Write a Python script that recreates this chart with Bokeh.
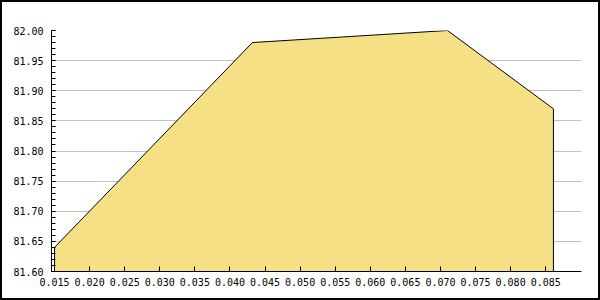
from bokeh.plotting import figure
from bokeh.models import Range1d, PrintfTickFormatter, FixedTicker
from bokeh.embed import file_html
from bokeh.resources import INLINE

# data
x_vals = [0.015, 0.0432, 0.0710, 0.0861]
y_vals = [81.64, 81.98, 82.00, 81.87]
base = 81.60
x_ticks = [0.015, 0.020, 0.025, 0.030, 0.035, 0.040, 0.045, 0.050,
           0.055, 0.060, 0.065, 0.070, 0.075, 0.080, 0.085]
y_ticks = [81.60, 81.65, 81.70, 81.75, 81.80, 81.85, 81.90, 81.95, 82.00]

p = figure(width=600, height=300, output_backend="svg", toolbar_location=None,
           x_range=Range1d(0.01457, 0.0901), y_range=Range1d(81.60, 82.00),
           min_border_left=49, min_border_right=21, min_border_top=28, min_border_bottom=31)
p.styles = {"border": "2px solid black", "box-sizing": "border-box"}
p.outline_line_color = None
p.background_fill_color = "white"
p.border_fill_color = "white"

xs = [x_vals[0]] + x_vals + [x_vals[-1]]
ys = [base] + y_vals + [base]
p.patch(xs, ys, fill_color="#F5E085", line_color="black", line_width=1)

p.xgrid.grid_line_color = None
p.ygrid.grid_line_color = "#C0C0C0"
p.ygrid.grid_line_width = 1
p.ygrid.ticker = FixedTicker(ticks=y_ticks)
p.ygrid.level = "underlay"

p.xaxis.ticker = FixedTicker(ticks=x_ticks)
p.yaxis.ticker = FixedTicker(ticks=y_ticks,
                             minor_ticks=[round(81.60 + 0.01 * i, 2) for i in range(41)])
p.xaxis.formatter = PrintfTickFormatter(format="%.3f")
p.yaxis.formatter = PrintfTickFormatter(format="%.2f")

for ax in (p.xaxis[0], p.yaxis[0]):
    ax.axis_line_color = "black"
    ax.major_tick_line_color = "black"
    ax.minor_tick_line_color = "black"
    ax.major_tick_in = 4
    ax.major_tick_out = 0
    ax.minor_tick_in = 4
    ax.minor_tick_out = 0
    ax.major_label_text_font = "DejaVu Sans Mono"
    ax.major_label_text_font_size = "10px"
    ax.major_label_text_color = "black"
p.xaxis.minor_tick_line_color = None
p.xaxis.major_tick_in = 5
p.xaxis.major_label_standoff = 6
p.yaxis.major_label_standoff = 8

open("out.html", "w").write(file_html(p, INLINE))
